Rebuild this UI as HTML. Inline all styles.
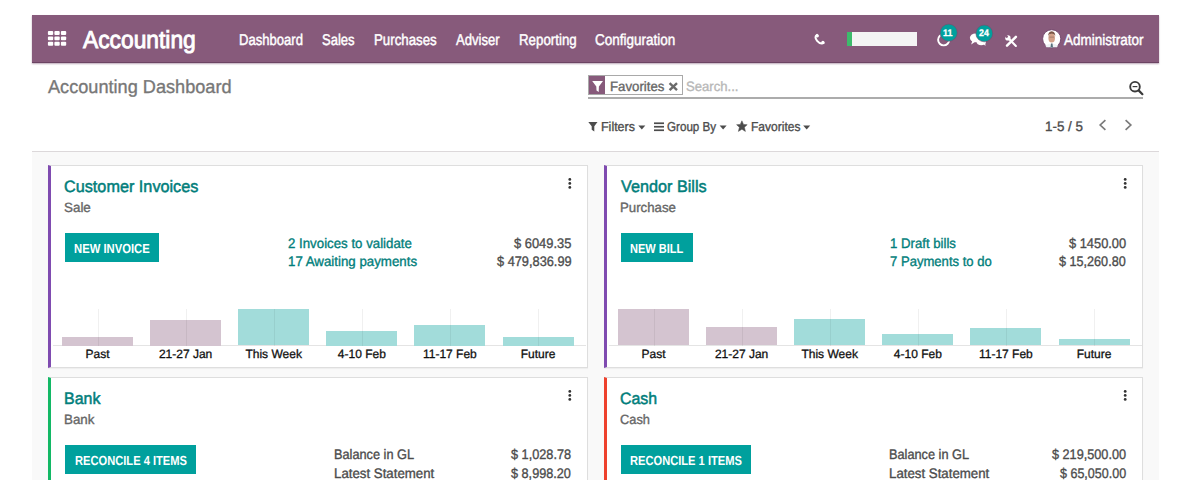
<!DOCTYPE html>
<html lang="en">
<head>
<meta charset="utf-8">
<title>Accounting Dashboard</title>
<style>
html,body{margin:0;padding:0;background:#fff;text-rendering:geometricPrecision;width:1200px;height:480px;overflow:hidden;position:relative;font-family:"Liberation Sans",Arial,sans-serif}
.abs{position:absolute}
.t{position:absolute;white-space:pre;transform-origin:0 0;font-family:"Liberation Sans",Arial,sans-serif}
#nav{position:absolute;left:32px;top:15px;width:1127px;height:47px;background:#875a7b;border-bottom:1px solid #6c4463;box-shadow:0 1px 1.5px rgba(90,40,80,.4)}
#cp{position:absolute;left:32px;top:63px;width:1127px;height:88px;background:#fff;border-bottom:1px solid #dcd8da}
#kb{position:absolute;left:32px;top:152px;width:1127px;height:328px;background:#f9f9f9}
.card{position:absolute;box-sizing:border-box;background:#fff;border:1px solid #dedede;border-left:3px solid #7f4bb0;box-shadow:0 1px 1px rgba(0,0,0,.04)}
.btn{position:absolute;background:#00a09d;height:29px}
.axis{position:absolute;height:1px;background:#e4e4e4}
.bar{position:absolute}
.grid{position:absolute;width:1px;background:rgba(0,0,0,.06)}
.cl{position:absolute;top:347px;height:14px;font-size:12px;line-height:14px;text-align:center;color:#111;-webkit-text-stroke:0.3px #111;font-family:"Liberation Sans",Arial,sans-serif}
#ov{position:absolute;left:0;top:0}
</style>
</head>
<body>
<div id="cp"></div>
<div id="kb"></div>
<div id="nav"></div>

<div class="card" style="left:48px;top:165px;width:540px;height:203px"></div>
<div class="card" style="left:604px;top:165px;width:539px;height:203px"></div>
<div class="card" style="left:48px;top:377px;width:540px;height:120px;border-left-color:#12b865"></div>
<div class="card" style="left:604px;top:377px;width:539px;height:120px;border-left-color:#ee412d"></div>

<div class="btn" style="left:65px;top:233px;width:94px"></div>
<div class="btn" style="left:621px;top:233px;width:72px"></div>
<div class="btn" style="left:65px;top:445px;width:131px"></div>
<div class="btn" style="left:621px;top:445px;width:130px"></div>

<!-- progress bar -->
<div class="abs" style="left:847px;top:32px;width:70px;height:14px;background:#f4f4f4"></div>
<div class="abs" style="left:847px;top:32px;width:5px;height:14px;background:#3dbb6c"></div>

<!-- facet -->
<div class="abs" style="left:588px;top:75px;width:93px;height:18px;border:1px solid #a9a9a9;background:#fff"></div>
<div class="abs" style="left:589px;top:76px;width:16px;height:18px;background:#875a7b"></div>
<div class="abs" style="left:588px;top:97px;width:555px;height:2px;background:#acacac"></div>

<div class="axis" style="left:53px;top:345px;width:533px"></div>
<div class="bar" style="left:62.0px;top:336.5px;width:71px;height:9.0px;background:#d4c4d0"></div>
<div class="grid" style="left:97.5px;top:309px;height:36.5px"></div>
<div class="cl" style="left:47.5px;width:100px">Past</div>
<div class="bar" style="left:150.1px;top:320px;width:71px;height:25.5px;background:#d4c4d0"></div>
<div class="grid" style="left:185.6px;top:309px;height:36.5px"></div>
<div class="cl" style="left:135.6px;width:100px">21-27 Jan</div>
<div class="bar" style="left:238.2px;top:308.8px;width:71px;height:36.7px;background:#a2dcda"></div>
<div class="grid" style="left:273.7px;top:309px;height:36.5px"></div>
<div class="cl" style="left:223.7px;width:100px">This Week</div>
<div class="bar" style="left:326.3px;top:331px;width:71px;height:14.5px;background:#a2dcda"></div>
<div class="grid" style="left:361.8px;top:309px;height:36.5px"></div>
<div class="cl" style="left:311.8px;width:100px">4-10 Feb</div>
<div class="bar" style="left:414.4px;top:325px;width:71px;height:20.5px;background:#a2dcda"></div>
<div class="grid" style="left:449.9px;top:309px;height:36.5px"></div>
<div class="cl" style="left:399.9px;width:100px">11-17 Feb</div>
<div class="bar" style="left:502.5px;top:337px;width:71px;height:8.5px;background:#a2dcda"></div>
<div class="grid" style="left:538.0px;top:309px;height:36.5px"></div>
<div class="cl" style="left:488.0px;width:100px">Future</div>
<div class="axis" style="left:609px;top:345px;width:533px"></div>
<div class="bar" style="left:618.0px;top:308.8px;width:71px;height:36.7px;background:#d4c4d0"></div>
<div class="grid" style="left:653.5px;top:309px;height:36.5px"></div>
<div class="cl" style="left:603.5px;width:100px">Past</div>
<div class="bar" style="left:706.1px;top:327.3px;width:71px;height:18.2px;background:#d4c4d0"></div>
<div class="grid" style="left:741.6px;top:309px;height:36.5px"></div>
<div class="cl" style="left:691.6px;width:100px">21-27 Jan</div>
<div class="bar" style="left:794.2px;top:318.8px;width:71px;height:26.7px;background:#a2dcda"></div>
<div class="grid" style="left:829.7px;top:309px;height:36.5px"></div>
<div class="cl" style="left:779.7px;width:100px">This Week</div>
<div class="bar" style="left:882.3px;top:333.6px;width:71px;height:11.9px;background:#a2dcda"></div>
<div class="grid" style="left:917.8px;top:309px;height:36.5px"></div>
<div class="cl" style="left:867.8px;width:100px">4-10 Feb</div>
<div class="bar" style="left:970.4px;top:328.3px;width:71px;height:17.2px;background:#a2dcda"></div>
<div class="grid" style="left:1005.9px;top:309px;height:36.5px"></div>
<div class="cl" style="left:955.9px;width:100px">11-17 Feb</div>
<div class="bar" style="left:1058.5px;top:338.8px;width:71px;height:6.7px;background:#a2dcda"></div>
<div class="grid" style="left:1094.0px;top:309px;height:36.5px"></div>
<div class="cl" style="left:1044.0px;width:100px">Future</div>

<svg id="ov" width="1200" height="480" viewBox="0 0 1200 480">
  <!-- apps grid -->
  <g fill="#fff">
    <rect x="47.9" y="31.1" width="5.3" height="3.9" rx="1"/>
    <rect x="54.4" y="31.1" width="5.3" height="3.9" rx="1"/>
    <rect x="60.9" y="31.1" width="5.3" height="3.9" rx="1"/>
    <rect x="47.9" y="36.4" width="5.3" height="3.9" rx="1"/>
    <rect x="54.4" y="36.4" width="5.3" height="3.9" rx="1"/>
    <rect x="60.9" y="36.4" width="5.3" height="3.9" rx="1"/>
    <rect x="47.9" y="41.8" width="5.3" height="3.9" rx="1"/>
    <rect x="54.4" y="41.8" width="5.3" height="3.9" rx="1"/>
    <rect x="60.9" y="41.8" width="5.3" height="3.9" rx="1"/>
  </g>
  <!-- phone -->
  <path d="M817.0,34.9 C815.0,36.0 814.9,38.3 817.1,40.9 C819.3,43.4 821.5,44.3 823.6,43.0" fill="none" stroke="#fff" stroke-width="2.0" stroke-linecap="round"/>
  <circle cx="817.3" cy="35.8" r="1.65" fill="#fff"/>
  <circle cx="822.9" cy="42.5" r="1.65" fill="#fff"/>
  <!-- activity -->
  <circle cx="943.7" cy="39.8" r="5.6" fill="none" stroke="#fff" stroke-width="1.9"/>
  <circle cx="948.7" cy="32.7" r="8.6" fill="#00a09d" stroke="#7a4a6c" stroke-width="0.6"/>
  <!-- chat -->
  <g fill="#fff">
    <ellipse cx="975.5" cy="37.8" rx="5.6" ry="4.4"/>
    <path d="M972.2,41 L971.2,44.6 L975.6,41.6 Z"/>
    <ellipse cx="981.2" cy="41.6" rx="4.8" ry="3.6"/>
    <path d="M983.6,44 L985.4,46 L985.4,42.6 Z"/>
  </g>
  <circle cx="984.3" cy="33.4" r="8.4" fill="#00a09d" stroke="#7a4a6c" stroke-width="0.6"/>
  <!-- tools -->
  <g stroke="#fff" stroke-linecap="round" fill="none">
    <line x1="1009.6" y1="39.6" x2="1015.9" y2="45.9" stroke-width="2.1"/>
    <line x1="1007.0" y1="45.7" x2="1015.9" y2="36.8" stroke-width="2.5"/>
  </g>
  <circle cx="1007.9" cy="37.9" r="2.7" fill="#fff"/>
  <circle cx="1006.5" cy="36.4" r="1.25" fill="#875a7b"/>
  <path d="M1005.6,35.4 L1007.4,37.2" stroke="#875a7b" stroke-width="1.6"/>
  <!-- avatar -->
  <circle cx="1051.7" cy="38.8" r="9.1" fill="#fff" stroke="#70456a" stroke-width="0.9"/>
  <ellipse cx="1051.7" cy="38.0" rx="3.3" ry="4.6" fill="#d3a188"/>
  <path d="M1048.2,36.4 Q1047.9,31.4 1051.7,31.2 Q1055.5,31.4 1055.2,36.4 Q1054.8,33.6 1051.7,33.8 Q1048.6,33.6 1048.2,36.4 Z" fill="#7b5645"/>
  <rect x="1049.4" y="36.6" width="4.6" height="1.1" fill="#9a7366" opacity="0.7"/>
  <path d="M1045.4,45.4 Q1051.7,41.4 1058,45.4 L1057,47.2 L1046.4,47.2 Z" fill="#eef2f4"/>
  <path d="M1051.0,43.4 L1052.5,43.4 L1053.0,47.4 L1050.5,47.4 Z" fill="#56707c"/>
  <!-- facet funnel -->
  <path d="M592.2,81 L603,81 L598.9,86.4 L598.7,92 L596.5,90.6 L596.3,86.4 Z" fill="#fff"/>
  <!-- facet x -->
  <g stroke="#6a6a6a" stroke-width="2.4" stroke-linecap="butt">
    <line x1="669.6" y1="83.2" x2="677" y2="90.2"/>
    <line x1="677" y1="83.2" x2="669.6" y2="90.2"/>
  </g>
  <!-- search magnifier -->
  <circle cx="1135" cy="86.7" r="4.8" fill="none" stroke="#3a3a3a" stroke-width="1.9"/>
  <line x1="1138.6" y1="90.4" x2="1142.4" y2="94.2" stroke="#3a3a3a" stroke-width="2.2" stroke-linecap="round"/>
  <line x1="1132.6" y1="86.6" x2="1137.4" y2="86.6" stroke="#3a3a3a" stroke-width="1.2"/>
  <!-- filters funnel -->
  <path d="M588.3,122 L597.5,122 L594.3,126.2 L594.3,131.4 L591.7,129.8 L591.7,126.2 Z" fill="#4c4c4c"/>
  <!-- carets -->
  <g fill="#4c4c4c">
    <path d="M638.3,125.6 L645.3,125.6 L641.8,129.6 Z"/>
    <path d="M719.6,125.6 L726.6,125.6 L723.1,129.6 Z"/>
    <path d="M803.2,125.6 L810.2,125.6 L806.7,129.6 Z"/>
  </g>
  <!-- bars icon -->
  <g fill="#4c4c4c">
    <rect x="654" y="122.4" width="10" height="1.7"/>
    <rect x="654" y="125.9" width="10" height="1.7"/>
    <rect x="654" y="129.4" width="10" height="1.7"/>
  </g>
  <!-- star -->
  <path d="M741.9,120.8 L743.5,124.4 L747.2,124.7 L744.4,127.3 L745.4,131.4 L741.9,129.2 L738.4,131.4 L739.4,127.3 L736.6,124.7 L740.3,124.4 Z" fill="#4c4c4c" stroke="#4c4c4c" stroke-width="0.5" stroke-linejoin="round"/>
  <!-- pager arrows -->
  <g fill="none" stroke="#7a7a7a" stroke-width="1.7">
    <polyline points="1105.4,120.2 1100.2,125 1105.4,129.8"/>
    <polyline points="1125.6,120.2 1130.8,125 1125.6,129.8"/>
  </g>
  <!-- kebabs -->
  <g fill="#333">
    <circle cx="569.8" cy="179.4" r="1.4"/><circle cx="569.8" cy="183.4" r="1.4"/><circle cx="569.8" cy="187.4" r="1.4"/>
    <circle cx="1125.2" cy="179.4" r="1.4"/><circle cx="1125.2" cy="183.4" r="1.4"/><circle cx="1125.2" cy="187.4" r="1.4"/>
    <circle cx="569.8" cy="391.4" r="1.4"/><circle cx="569.8" cy="395.4" r="1.4"/><circle cx="569.8" cy="399.4" r="1.4"/>
    <circle cx="1125.2" cy="391.4" r="1.4"/><circle cx="1125.2" cy="395.4" r="1.4"/><circle cx="1125.2" cy="399.4" r="1.4"/>
  </g>
</svg>

<div class="t" style="left:82.90px;top:29.00px;font-size:24.6px;line-height:24.6px;font-weight:normal;color:#fff;transform:scaleX(0.9267);-webkit-text-stroke:0.9px #fff">Accounting</div>
<div class="t" style="left:239.16px;top:32.80px;font-size:15.6px;line-height:15.6px;font-weight:normal;color:#fff;transform:scaleX(0.8378);-webkit-text-stroke:0.45px #fff">Dashboard</div>
<div class="t" style="left:321.76px;top:32.80px;font-size:15.6px;line-height:15.6px;font-weight:normal;color:#fff;transform:scaleX(0.8368);-webkit-text-stroke:0.45px #fff">Sales</div>
<div class="t" style="left:373.85px;top:32.80px;font-size:15.6px;line-height:15.6px;font-weight:normal;color:#fff;transform:scaleX(0.8514);-webkit-text-stroke:0.45px #fff">Purchases</div>
<div class="t" style="left:455.70px;top:32.80px;font-size:15.6px;line-height:15.6px;font-weight:normal;color:#fff;transform:scaleX(0.8385);-webkit-text-stroke:0.45px #fff">Adviser</div>
<div class="t" style="left:518.85px;top:32.80px;font-size:15.6px;line-height:15.6px;font-weight:normal;color:#fff;transform:scaleX(0.8530);-webkit-text-stroke:0.45px #fff">Reporting</div>
<div class="t" style="left:595.33px;top:32.80px;font-size:15.6px;line-height:15.6px;font-weight:normal;color:#fff;transform:scaleX(0.8659);-webkit-text-stroke:0.45px #fff">Configuration</div>
<div class="t" style="left:1063.80px;top:32.70px;font-size:15.3px;line-height:15.3px;font-weight:normal;color:#fff;transform:scaleX(0.8822);-webkit-text-stroke:0.45px #fff">Administrator</div>
<div class="t" style="left:942.97px;top:28.75px;font-size:9.5px;line-height:9.5px;font-weight:bold;color:#fff;transform:scaleX(0.9333);-webkit-text-stroke:0.3px #fff">11</div>
<div class="t" style="left:978.90px;top:29.10px;font-size:9.5px;line-height:9.5px;font-weight:bold;color:#fff;transform:scaleX(0.9273);-webkit-text-stroke:0.3px #fff">24</div>
<div class="t" style="left:48.30px;top:78.30px;font-size:18.6px;line-height:18.6px;font-weight:normal;color:#777;transform:scaleX(0.9759);-webkit-text-stroke:0.35px #777">Accounting Dashboard</div>
<div class="t" style="left:609.73px;top:79.70px;font-size:13.6px;line-height:13.6px;font-weight:normal;color:#666;transform:scaleX(0.9722);-webkit-text-stroke:0.35px #666">Favorites</div>
<div class="t" style="left:686.23px;top:79.70px;font-size:13.6px;line-height:13.6px;font-weight:normal;color:#b8b8b8;transform:scaleX(0.9654);-webkit-text-stroke:0.35px #b8b8b8">Search...</div>
<div class="t" style="left:600.64px;top:120.00px;font-size:13px;line-height:13px;font-weight:normal;color:#4c4c4c;transform:scaleX(0.9588);-webkit-text-stroke:0.35px #4c4c4c">Filters</div>
<div class="t" style="left:667.31px;top:120.00px;font-size:13px;line-height:13px;font-weight:normal;color:#4c4c4c;transform:scaleX(0.8944);-webkit-text-stroke:0.35px #4c4c4c">Group By</div>
<div class="t" style="left:750.68px;top:120.00px;font-size:13px;line-height:13px;font-weight:normal;color:#4c4c4c;transform:scaleX(0.9250);-webkit-text-stroke:0.35px #4c4c4c">Favorites</div>
<div class="t" style="left:1045.42px;top:119.60px;font-size:13.7px;line-height:13.7px;font-weight:normal;color:#4c4c4c;transform:scaleX(0.9784);-webkit-text-stroke:0.35px #4c4c4c">1-5 / 5</div>
<div class="t" style="left:64.02px;top:178.60px;font-size:16.6px;line-height:16.6px;font-weight:normal;color:#017e7b;transform:scaleX(0.9779);-webkit-text-stroke:0.5px #017e7b">Customer Invoices</div>
<div class="t" style="left:64.00px;top:200.60px;font-size:13.4px;line-height:13.4px;font-weight:normal;color:#666;transform:scaleX(1.0000);-webkit-text-stroke:0.35px #666">Sale</div>
<div class="t" style="left:74.25px;top:242.00px;font-size:13.2px;line-height:13.2px;font-weight:bold;color:#fff;transform:scaleX(0.8540)">NEW INVOICE</div>
<div class="t" style="left:288.44px;top:236.50px;font-size:13.8px;line-height:13.8px;font-weight:normal;color:#017e7b;transform:scaleX(0.9614);-webkit-text-stroke:0.35px #017e7b">2 Invoices to validate</div>
<div class="t" style="left:513.80px;top:236.50px;font-size:13.8px;line-height:13.8px;font-weight:normal;color:#4c4c4c;transform:scaleX(0.9344);-webkit-text-stroke:0.35px #4c4c4c">$ 6049.35</div>
<div class="t" style="left:288.44px;top:255.40px;font-size:13.8px;line-height:13.8px;font-weight:normal;color:#017e7b;transform:scaleX(0.9632);-webkit-text-stroke:0.35px #017e7b">17 Awaiting payments</div>
<div class="t" style="left:496.70px;top:255.40px;font-size:13.8px;line-height:13.8px;font-weight:normal;color:#4c4c4c;transform:scaleX(0.9262);-webkit-text-stroke:0.35px #4c4c4c">$ 479,836.99</div>
<div class="t" style="left:620.70px;top:178.60px;font-size:16.6px;line-height:16.6px;font-weight:normal;color:#017e7b;transform:scaleX(0.9770);-webkit-text-stroke:0.5px #017e7b">Vendor Bills</div>
<div class="t" style="left:619.71px;top:200.60px;font-size:13.4px;line-height:13.4px;font-weight:normal;color:#666;transform:scaleX(0.9891);-webkit-text-stroke:0.35px #666">Purchase</div>
<div class="t" style="left:629.96px;top:242.00px;font-size:13.2px;line-height:13.2px;font-weight:bold;color:#fff;transform:scaleX(0.8365)">NEW BILL</div>
<div class="t" style="left:889.54px;top:236.50px;font-size:13.8px;line-height:13.8px;font-weight:normal;color:#017e7b;transform:scaleX(0.9559);-webkit-text-stroke:0.35px #017e7b">1 Draft bills</div>
<div class="t" style="left:1069.20px;top:236.50px;font-size:13.8px;line-height:13.8px;font-weight:normal;color:#4c4c4c;transform:scaleX(0.9311);-webkit-text-stroke:0.35px #4c4c4c">$ 1450.00</div>
<div class="t" style="left:889.55px;top:255.40px;font-size:13.8px;line-height:13.8px;font-weight:normal;color:#017e7b;transform:scaleX(0.9481);-webkit-text-stroke:0.35px #017e7b">7 Payments to do</div>
<div class="t" style="left:1059.20px;top:255.40px;font-size:13.8px;line-height:13.8px;font-weight:normal;color:#4c4c4c;transform:scaleX(0.9151);-webkit-text-stroke:0.35px #4c4c4c">$ 15,260.80</div>
<div class="t" style="left:64.44px;top:390.60px;font-size:16.6px;line-height:16.6px;font-weight:normal;color:#017e7b;transform:scaleX(0.9622);-webkit-text-stroke:0.5px #017e7b">Bank</div>
<div class="t" style="left:64.40px;top:412.60px;font-size:13.4px;line-height:13.4px;font-weight:normal;color:#666;transform:scaleX(0.9966);-webkit-text-stroke:0.35px #666">Bank</div>
<div class="t" style="left:74.56px;top:454.00px;font-size:13.2px;line-height:13.2px;font-weight:bold;color:#fff;transform:scaleX(0.8443)">RECONCILE 4 ITEMS</div>
<div class="t" style="left:333.58px;top:448.00px;font-size:13.8px;line-height:13.8px;font-weight:normal;color:#4c4c4c;transform:scaleX(0.9235);-webkit-text-stroke:0.35px #4c4c4c">Balance in GL</div>
<div class="t" style="left:510.80px;top:448.00px;font-size:13.8px;line-height:13.8px;font-weight:normal;color:#4c4c4c;transform:scaleX(0.9215);-webkit-text-stroke:0.35px #4c4c4c">$ 1,028.78</div>
<div class="t" style="left:333.54px;top:467.40px;font-size:13.8px;line-height:13.8px;font-weight:normal;color:#4c4c4c;transform:scaleX(0.9612);-webkit-text-stroke:0.35px #4c4c4c">Latest Statement</div>
<div class="t" style="left:511.00px;top:467.40px;font-size:13.8px;line-height:13.8px;font-weight:normal;color:#4c4c4c;transform:scaleX(0.9185);-webkit-text-stroke:0.35px #4c4c4c">$ 8,998.20</div>
<div class="t" style="left:619.94px;top:390.60px;font-size:16.6px;line-height:16.6px;font-weight:normal;color:#017e7b;transform:scaleX(0.9595);-webkit-text-stroke:0.5px #017e7b">Cash</div>
<div class="t" style="left:619.94px;top:412.60px;font-size:13.4px;line-height:13.4px;font-weight:normal;color:#666;transform:scaleX(0.9567);-webkit-text-stroke:0.35px #666">Cash</div>
<div class="t" style="left:630.26px;top:454.00px;font-size:13.2px;line-height:13.2px;font-weight:bold;color:#fff;transform:scaleX(0.8435)">RECONCILE 1 ITEMS</div>
<div class="t" style="left:889.08px;top:448.00px;font-size:13.8px;line-height:13.8px;font-weight:normal;color:#4c4c4c;transform:scaleX(0.9235);-webkit-text-stroke:0.35px #4c4c4c">Balance in GL</div>
<div class="t" style="left:1052.30px;top:448.00px;font-size:13.8px;line-height:13.8px;font-weight:normal;color:#4c4c4c;transform:scaleX(0.9187);-webkit-text-stroke:0.35px #4c4c4c">$ 219,500.00</div>
<div class="t" style="left:889.04px;top:467.40px;font-size:13.8px;line-height:13.8px;font-weight:normal;color:#4c4c4c;transform:scaleX(0.9612);-webkit-text-stroke:0.35px #4c4c4c">Latest Statement</div>
<div class="t" style="left:1059.60px;top:467.40px;font-size:13.8px;line-height:13.8px;font-weight:normal;color:#4c4c4c;transform:scaleX(0.9068);-webkit-text-stroke:0.35px #4c4c4c">$ 65,050.00</div>
</body>
</html>
